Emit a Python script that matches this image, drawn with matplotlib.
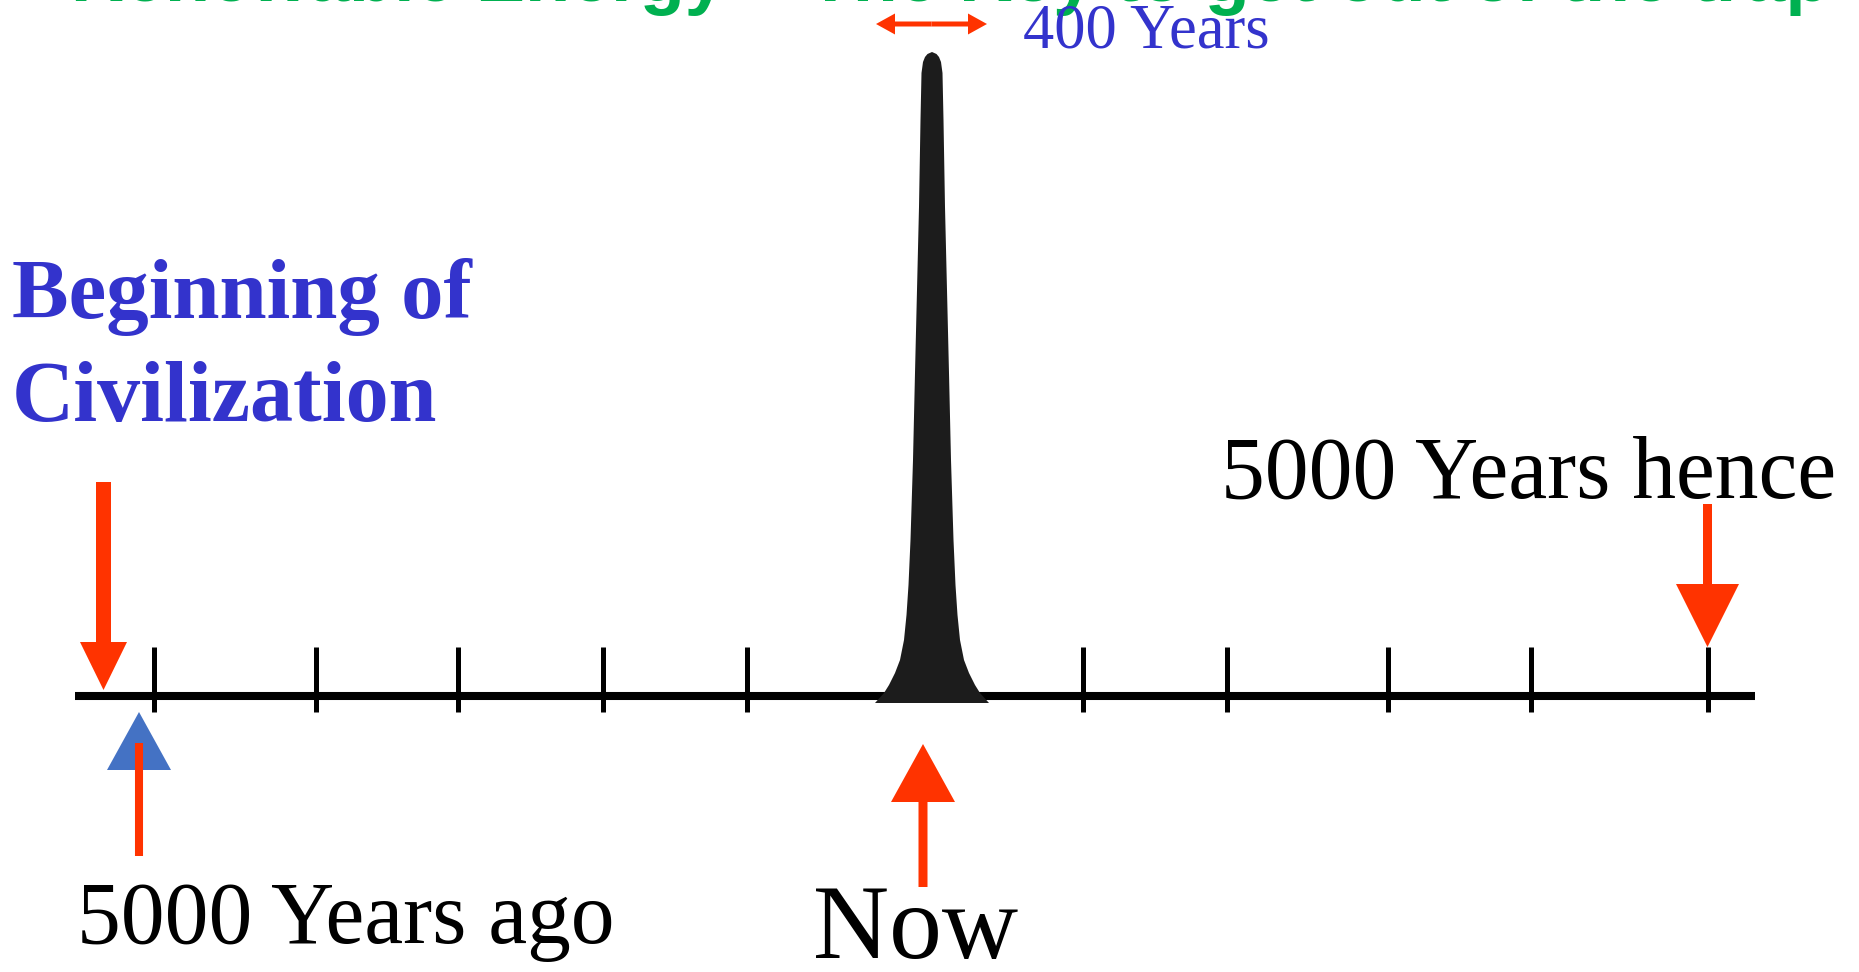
import matplotlib
matplotlib.use("Agg")
import matplotlib.pyplot as plt
from matplotlib.patches import Polygon

# canvas is measured in pixels of the original slide (x to the right, y downwards)
W, H = 1859, 972

# timeline
line_x = [75, 1755]
line_y = 696
tick_x = [154, 316, 458, 603, 747, 1083, 1227, 1388, 1531, 1708]
tick_top, tick_bottom = 647, 712

# the oil "spike" centred on Now: profile as (y, half width)
peak_x = 932
peak_y = [52, 54, 57, 62, 73, 120, 207, 290, 373, 460, 540, 585, 615, 640, 660, 673, 685, 693, 703]
peak_hw = [0, 4.5, 7, 9, 10.5, 11.5, 13, 15, 17, 19, 21.5, 23.5, 25.5, 28, 32, 37, 43, 48, 57]

# labels
title = "Renewable Energy \u2013 The Key to get out of the trap"
span_label = "400 Years"
start_label = ["Beginning of", "Civilization"]
past_label = "5000 Years ago"
now_label = "Now"
future_label = "5000 Years hence"

RED = "#FF3300"
BLUE_TXT = "#3333CC"
BLUE_TRI = "#4472C4"
GREEN = "#00B050"

fig = plt.figure(figsize=(W / 100, H / 100), dpi=100)
ax = fig.add_axes([0, 0, 1, 1])
ax.set_xlim(0, W)
ax.set_ylim(H, 0)
ax.axis("off")

# timeline + ticks
ax.plot(line_x, [line_y, line_y], color="black", lw=5.8, solid_capstyle="butt", zorder=2)
for x in tick_x:
    ax.plot([x, x], [tick_top, tick_bottom], color="black", lw=3.6, solid_capstyle="butt", zorder=2)

# spike
left = [(peak_x - w, y) for y, w in zip(peak_y, peak_hw)]
right = [(peak_x + w, y) for y, w in zip(peak_y, peak_hw)][::-1]
ax.add_patch(Polygon(left + right, closed=True, facecolor="#1C1C1C", edgecolor="none", zorder=3))

# 400 years double arrow
for dx in (-55.5, 55.5):
    ax.arrow(931.5, 24, dx, 0, width=5, head_width=21, head_length=19,
             length_includes_head=True, color=RED, lw=0, zorder=4)

# beginning of civilization arrow (down)
ax.arrow(103.5, 482, 0, 690 - 482, width=15, head_width=47, head_length=48,
         length_includes_head=True, color=RED, lw=0, zorder=4)

# 5000 years ago: blue triangle and red stem
ax.add_patch(Polygon([(107, 770), (171, 770), (139, 712)], closed=True,
                     facecolor=BLUE_TRI, edgecolor="none", zorder=4))
ax.plot([139, 139], [743, 856], color=RED, lw=5.8, solid_capstyle="butt", zorder=5)

# now arrow (up)
ax.arrow(923, 887, 0, 744 - 887, width=9, head_width=64, head_length=58,
         length_includes_head=True, color=RED, lw=0, zorder=4)

# 5000 years hence arrow (down)
ax.arrow(1707.5, 504, 0, 647 - 504, width=9, head_width=63, head_length=63,
         length_includes_head=True, color=RED, lw=0, zorder=4)

# texts
serif = "Liberation Serif"
ax.text(71, 1, title, family="Liberation Sans", weight="bold", fontsize=53,
        color=GREEN, ha="left", va="baseline")
ax.text(1023, 47, span_label, family=serif, fontsize=45, color=BLUE_TXT,
        ha="left", va="baseline")
ax.text(12, 318, start_label[0], family=serif, weight="bold", fontsize=61,
        color=BLUE_TXT, ha="left", va="baseline")
ax.text(12, 421, start_label[1], family=serif, weight="bold", fontsize=62,
        color=BLUE_TXT, ha="left", va="baseline")
ax.text(77, 943, past_label, family=serif, fontsize=63, color="black",
        ha="left", va="baseline")
ax.text(813, 958, now_label, family=serif, fontsize=76, color="black",
        ha="left", va="baseline")
ax.text(1221, 498, future_label, family=serif, fontsize=63, color="black",
        ha="left", va="baseline")

fig.savefig("out.png", dpi=100)
